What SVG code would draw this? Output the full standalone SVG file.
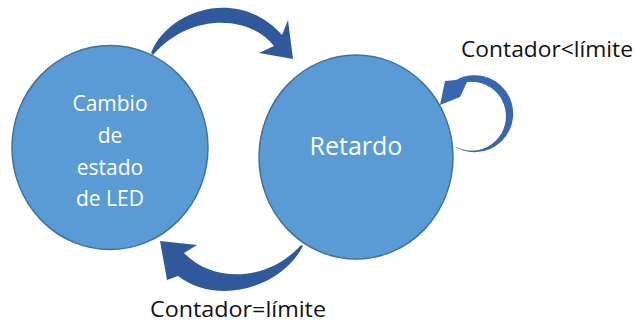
<svg xmlns="http://www.w3.org/2000/svg" width="637" height="324" viewBox="0 0 637 324">
  <style>
    .state { fill: #5B9BD5; stroke: #41719C; stroke-width: 1.5; }
    .ntext { fill: #FFFFFF; font-family: "Open Sans", "Liberation Sans", sans-serif; text-anchor: middle; }
    .arrow { fill: #30599B; stroke: none; }
    .loop { fill: #3867B0; stroke: none; }
    .label { fill: #111111; font-family: "Open Sans", "Liberation Sans", sans-serif; font-size: 22px; }
  </style>
  <rect width="637" height="324" fill="#FFFFFF"/>
  <g id="node-cambio">
    <ellipse class="state" cx="110" cy="147.5" rx="98" ry="102"/>
    <text class="ntext" font-size="21" x="110" y="111">Cambio</text>
    <text class="ntext" font-size="21" x="110" y="143">de</text>
    <text class="ntext" font-size="21" x="110" y="175">estado</text>
    <text class="ntext" font-size="21" x="110" y="206">de LED</text>
  </g>
  <g id="node-retardo">
    <ellipse class="state" cx="356" cy="157" rx="97" ry="102"/>
    <text class="ntext" font-size="25" x="356" y="155">Retardo</text>
  </g>
  <g id="connectors">
    <path id="edge-cambio-retardo" class="arrow" d="M151,53 C168,10 238,-14 282,35 L288,20 L293,59 L259,53 L274,46 C250,15 190,12 153,55 Z"/>
    <path id="edge-retardo-cambio" class="arrow" d="M303,246 C280,290 215,305 178,276 L167,280 L160,241 L197,245 L184,253 C215,285 270,280 301,245 Z"/>
    <path id="edge-retardo-loop" class="loop" d="M456,80 A38.5 38.5 0 1 1 451,144 A34.5 34.5 0 1 0 467,82 L460,97 L440,105 L445,81 Z"/>
    <text class="label" x="461" y="57" textLength="172" lengthAdjust="spacingAndGlyphs">Contador&lt;límite</text>
    <text class="label" x="150" y="317" textLength="176" lengthAdjust="spacingAndGlyphs">Contador=límite</text>
  </g>
</svg>
